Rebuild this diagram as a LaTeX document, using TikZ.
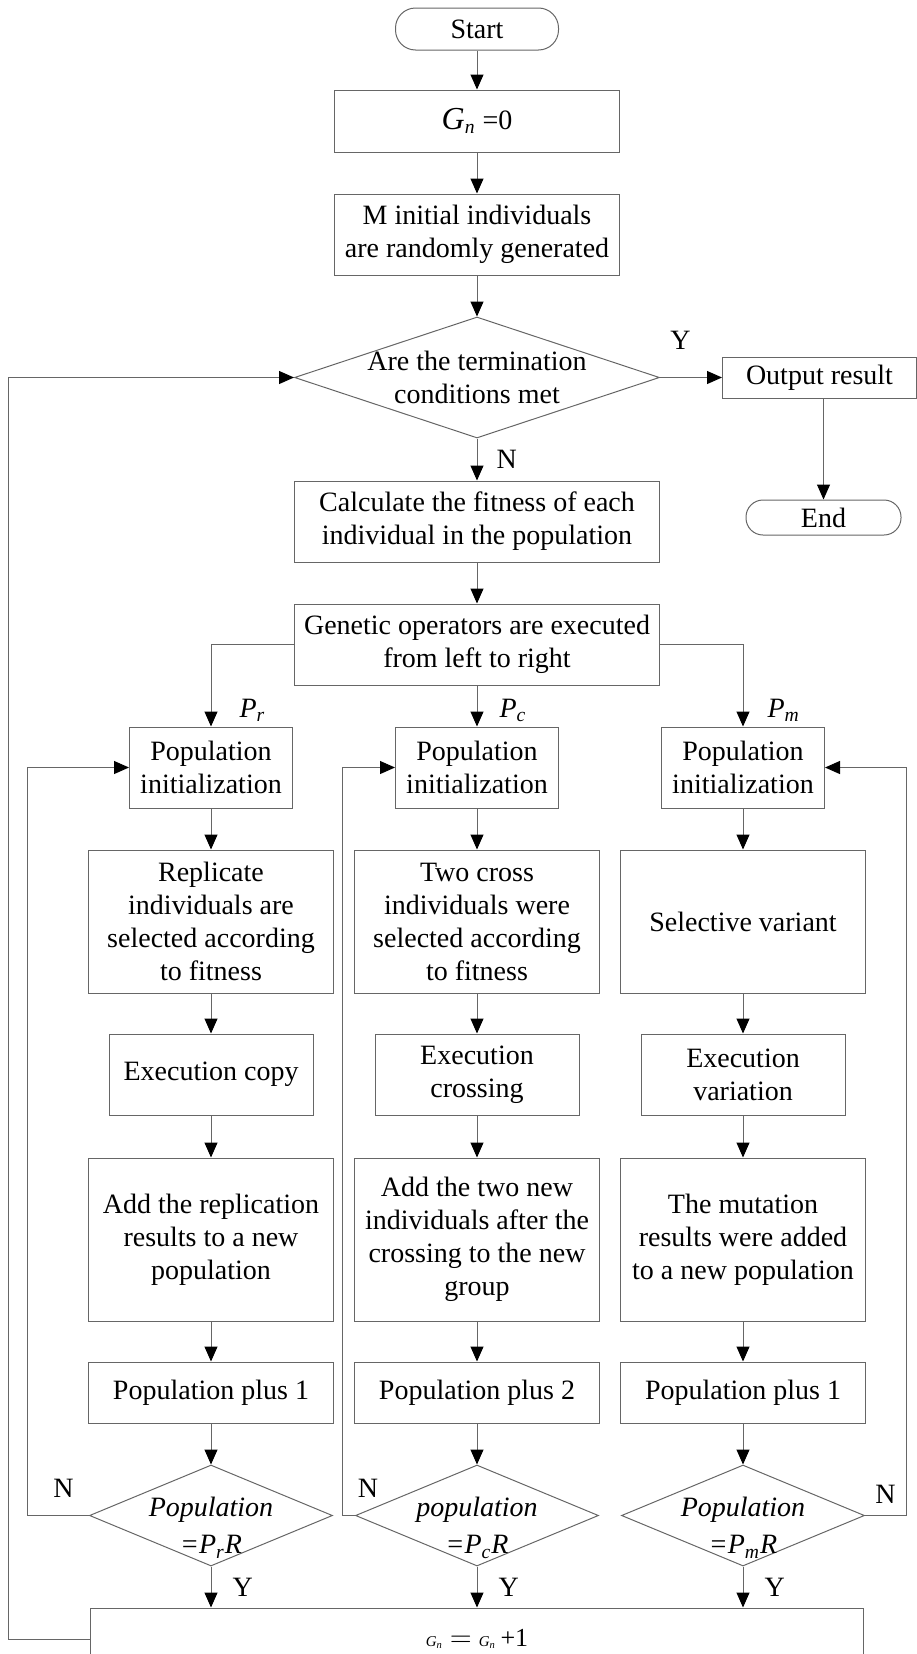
\documentclass[tikz,border=0pt]{standalone}
\usepackage{fontspec}
\setmainfont{Liberation Serif}
\usetikzlibrary{arrows.meta, positioning, shapes.geometric}

\begin{document}
\begin{tikzpicture}[
    font=\fontsize{14}{16.5}\selectfont,
    box/.style={draw=black!60, line width=0.5pt, rectangle, align=center,
                inner sep=2pt, minimum width=122.5pt},
    terminal/.style={draw=black!60, line width=0.5pt, rectangle, align=center,
                rounded corners=10pt, minimum height=21pt},
    decision/.style={draw=black!60, line width=0.5pt, diamond, align=center,
                inner sep=-7pt, aspect=2.4, minimum width=121.5pt, minimum height=50.5pt,
                font=\fontsize{14}{18.5}\selectfont\itshape},
    arrow/.style={draw=black!60, line width=0.5pt,
                -{Triangle[length=7.5pt, width=6.5pt, color=black]}},
    lbl/.style={inner sep=0pt},
]
\useasboundingbox (0,0) rectangle (458pt,-827pt);

\node[terminal, minimum width=81.5pt] (start) at (238.5pt,-14.5pt) {Start};
\node[box, minimum width=142.5pt, minimum height=31pt, below=19.5pt of start] (gzero)
    {{\fontsize{16}{18}\selectfont\textit{G}}\textsubscript{\textit{n}} =0};
\node[box, minimum width=142.5pt, minimum height=40.5pt, below=20.5pt of gzero] (minit)
    {M initial individuals\\are randomly generated};
\node[decision, minimum width=182.5pt, minimum height=60.5pt, aspect=3, inner sep=-5pt,
      font=\fontsize{14}{16.5}\selectfont\upshape, below=20.5pt of minit] (stop)
    {Are the termination\\conditions met};
\node[box, minimum width=97pt, minimum height=20.5pt, right=31pt of stop] (output) {Output result};
\node[terminal, minimum width=77.5pt, minimum height=17.5pt, rounded corners=8.5pt,
      below=50.5pt of output, xshift=2pt] (end) {End};
\node[box, minimum width=182.5pt, minimum height=40.5pt, below=21pt of stop] (fitness)
    {Calculate the fitness of each\\individual in the population};
\node[box, minimum width=182.5pt, minimum height=40.5pt, below=20.5pt of fitness] (genetic)
    {Genetic operators are executed\\from left to right};

% three operator columns
\node[box, minimum width=81.5pt, minimum height=40.5pt, below=20.5pt of genetic] (initc)
    {Population\\initialization};
\node[box, minimum width=81.5pt, minimum height=40.5pt, left=51pt of initc] (initr)
    {Population\\initialization};
\node[box, minimum width=81.5pt, minimum height=40.5pt, right=51pt of initc] (initm)
    {Population\\initialization};

\node[box, minimum height=71.5pt, below=20.5pt of initr] (selr)
    {Replicate\\individuals are\\selected according\\to fitness};
\node[box, minimum height=71.5pt, below=20.5pt of initc] (selc)
    {Two cross\\individuals were\\selected according\\to fitness};
\node[box, minimum height=71.5pt, below=20.5pt of initm] (selm) {Selective variant};

\node[box, minimum width=102pt, minimum height=40.5pt, below=20pt of selr] (execr) {Execution copy};
\node[box, minimum width=102pt, minimum height=40.5pt, below=20pt of selc] (execc) {Execution\\crossing};
\node[box, minimum width=102pt, minimum height=40.5pt, below=20pt of selm] (execm) {Execution\\variation};

\node[box, minimum height=81.5pt, below=21pt of execr] (addr)
    {Add the replication\\results to a new\\population};
\node[box, minimum height=81.5pt, below=21pt of execc] (addc)
    {Add the two new\\individuals after the\\crossing to the new\\group};
\node[box, minimum height=81.5pt, below=21pt of execm] (addm)
    {The mutation\\results were added\\to a new population};

\node[box, minimum height=30.5pt, below=20pt of addr] (plusr) {Population plus 1};
\node[box, minimum height=30.5pt, below=20pt of addc] (plusc) {Population plus 2};
\node[box, minimum height=30.5pt, below=20pt of addm] (plusm) {Population plus 1};

% strut lowers the two lines inside the diamond
\node[decision, below=20.5pt of plusr] (chkr) {\rule{0pt}{22pt}Population\\=P\textsubscript{r}R};
\node[decision, below=20.5pt of plusc] (chkc) {\rule{0pt}{22pt}population\\=P\textsubscript{c}R};
\node[decision, below=20.5pt of plusm] (chkm) {\rule{0pt}{22pt}Population\\=P\textsubscript{m}R};

\node[box, minimum width=386.5pt, minimum height=31pt, below=20.5pt of chkc] (gnext)
    {{\fontsize{7.5}{9}\selectfont\textit{G}\textsubscript{\textit{n}}} $=$
     {\fontsize{7.5}{9}\selectfont\textit{G}\textsubscript{\textit{n}}}\,{\fontsize{13}{15}\selectfont +1}};

% main flow
\draw[arrow] (start) -- (gzero);
\draw[arrow] (gzero) -- (minit);
\draw[arrow] (minit) -- (stop);
\draw[arrow] (stop) -- node[lbl, pos=0.33, above=14pt] {Y} (output);
\draw[arrow] (end.north |- output.south) -- (end);
\draw[arrow] (stop) -- node[lbl, right=9.5pt] {N} (fitness);
\draw[arrow] (fitness) -- (genetic);
\draw[arrow] (genetic.west) -| node[lbl, pos=0.9, right=14pt]
    {\textit{P}\textsubscript{\textit{r}}} (initr.north);
\draw[arrow] (genetic) -- node[lbl, pos=0.6, right=11pt]
    {\textit{P}\textsubscript{\textit{c}}} (initc);
\draw[arrow] (genetic.east) -| node[lbl, pos=0.9, right=12pt]
    {\textit{P}\textsubscript{\textit{m}}} (initm.north);

% replication column
\draw[arrow] (initr) -- (selr);
\draw[arrow] (selr) -- (execr);
\draw[arrow] (execr) -- (addr);
\draw[arrow] (addr) -- (plusr);
\draw[arrow] (plusr) -- (chkr);
\draw[arrow] (chkr) -- node[lbl, right=10.5pt] {Y} (chkr |- gnext.north);
\draw[arrow] (chkr.west) -- ++(-31pt,0) node[lbl, pos=0.41, above=9pt] {N} |- (initr.west);

% crossing column
\draw[arrow] (initc) -- (selc);
\draw[arrow] (selc) -- (execc);
\draw[arrow] (execc) -- (addc);
\draw[arrow] (addc) -- (plusc);
\draw[arrow] (plusc) -- (chkc);
\draw[arrow] (chkc) -- node[lbl, right=10.5pt] {Y} (gnext);
\draw[arrow] (chkc.west) node[lbl, above right=9pt and 1.2pt] {N} -- ++(-6.5pt,0) |- (initc.west);

% mutation column
\draw[arrow] (initm) -- (selm);
\draw[arrow] (selm) -- (execm);
\draw[arrow] (execm) -- (addm);
\draw[arrow] (addm) -- (plusm);
\draw[arrow] (plusm) -- (chkm);
\draw[arrow] (chkm) -- node[lbl, right=10.5pt] {Y} (chkm |- gnext.north);
\draw[arrow] (chkm.east) -- ++(20.5pt,0) node[lbl, pos=0.5, above=6pt] {N} |- (initm.east);

% next generation
\draw[arrow] (gnext.west) -- ++(-41pt,0) |- (stop.west);
\end{tikzpicture}
\end{document}
